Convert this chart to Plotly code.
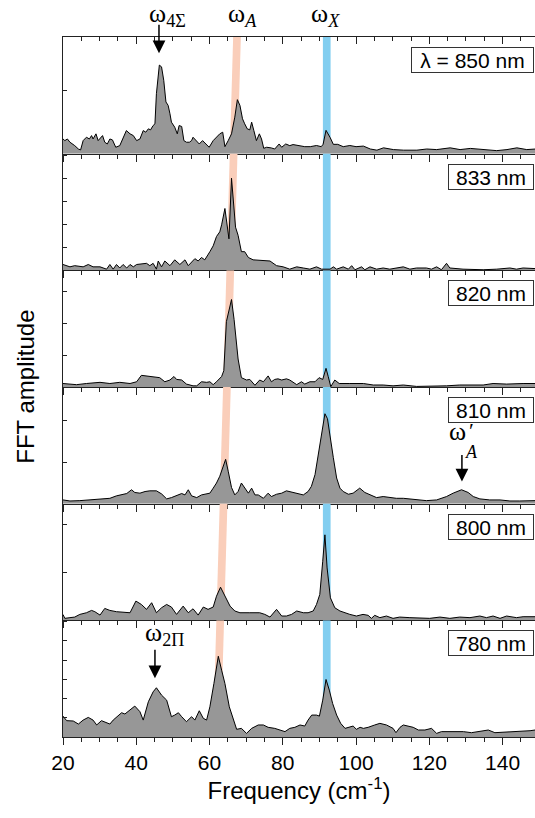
import plotly.graph_objects as go

# ---------------- data (amplitude in % of each panel's height) ----------------
labels = ["λ = 850 nm", "833 nm", "820 nm", "810 nm", "800 nm", "780 nm"]

freq_850 = [20, 20.5, 21.2, 21.9, 23.2, 24.2, 24.8, 25.5, 26.4, 27.2, 27.8, 28.2, 29, 29.6, 30.8, 31.4, 32.1, 32.8, 33.5, 34.4,
            35.5, 36.4, 37.3, 38.3, 39.2, 40.1, 41, 41.9, 42.6, 43.3, 43.9, 44.6, 45.1, 45.5, 46.3, 46.9, 47.5, 48.1, 48.7, 49.2,
            49.6, 50.5, 51.2, 51.7, 52.4, 53, 53.7, 54.5, 55.1, 55.5, 56.3, 57.2, 58.1, 59, 59.9, 61, 61.9, 62.8, 63.6, 64.2,
            65.1, 66, 66.9, 67.6, 68.3, 69, 69.6, 70.3, 71, 71.5, 72.1, 72.8, 73.6, 74.2, 74.8, 75.6, 76.9, 77.8, 79, 79.7,
            80.8, 81.9, 82.8, 84.2, 86, 87.5, 89.2, 90.5, 91, 91.8, 92.4, 92.9, 93.8, 95, 96.5, 98.3, 100, 102, 103.9, 105.7,
            107.5, 110.2, 113, 116.6, 119.3, 122, 125.7, 128.4, 131.2, 134.8, 138.4, 141.2, 143.9, 146.6, 149]
amp_850 = [12.6, 11.2, 12.6, 9.8, 6.9, 4, 3.2, 11.2, 14.1, 12.6, 15.5, 12.6, 17, 11.2, 15.5, 9.8, 8.3, 12.6, 11.8, 5.5,
           6.9, 14.1, 19.8, 17, 15.5, 11.2, 12.6, 19.8, 18.4, 21.3, 20.4, 24.1, 25.6, 51.4, 75.9, 74.4, 62.9, 44.3, 41.4, 34.2,
           27, 22.7, 17, 24.1, 23.3, 11.2, 9.8, 9.8, 11.2, 14.1, 11.2, 8.3, 11.2, 8.3, 5.5, 11.2, 14.1, 17, 18.4, 6,
           11.2, 17, 31.3, 46.3, 41.4, 29.9, 25.6, 21.3, 20.4, 27, 19.8, 11.2, 17, 12.6, 4.6, 5.5, 4.9, 4, 8.3, 5.5,
           8.3, 6.9, 7.8, 6.9, 6, 6, 7, 6, 8, 20, 17, 14, 8, 8, 6, 7, 6, 6.5, 4, 3,
           5, 3.5, 3, 3, 4, 3.5, 5, 3.5, 4.5, 3.5, 2.6, 3.5, 5, 3.5, 4]

freq_833 = [20, 21.9, 23.2, 25.5, 26.9, 28.2, 30.1, 31.9, 32.8, 33.7, 34.6, 35.5, 36.4, 37.4, 38.3, 39.2, 40.1, 42.8, 43.7, 44.6,
            45.5, 46, 46.9, 47.8, 49.2, 50.5, 51.9, 53.3, 54.2, 56, 56.9, 57.8, 58.7, 59.2, 60.1, 61, 61.9, 62.8, 63.3, 64.2,
            64.6, 65.3, 66, 66.5, 67.1, 67.8, 68.7, 69.6, 70.6, 71.9, 75.6, 76.5, 78.3, 80.1, 81.9, 83.8, 85.6, 87.4, 89.2, 90.6,
            92.9, 93.8, 94.7, 96.5, 97.9, 98.8, 99.7, 101.5, 102.4, 103.8, 105.6, 107.4, 109.2, 112.9, 114.7, 116.5, 119.2, 120.6, 122, 123.3,
            124.7, 125.6, 129.2, 134.7, 138.4, 142, 143.8, 145.6, 148.9]
amp_833 = [5, 3, 4, 3, 5, 3, 3, 1, 5, 1, 5, 2, 5, 2, 5, 3, 5, 6, 4, 6,
           1, 8, 3, 8, 4, 9, 5, 9, 4, 10, 8, 11, 9, 12, 16, 21, 29, 33, 39, 53,
           45, 27, 79, 56, 37, 30, 16, 16, 11, 9, 8, 8, 4, 3, 1, 3, 2, 1, 3, 1,
           1, 3, 1, 3, 1, 4, 0.5, 3, 0.5, 3, 1, 2, 1, 3, 1, 2, 2, 1, 3, 0.5,
           6, 2, 1, 0.5, 1, 2, 1, 2, 1.5]

freq_820 = [20, 21.9, 23.7, 26.4, 30.1, 32.8, 35.5, 38.3, 40.1, 41.4, 43.7, 46.4, 47.8, 49.2, 50.3, 51, 52.4, 53.7, 55.5, 56.5,
            57.8, 59.2, 60.1, 61, 61.9, 63.3, 63.9, 64.6, 66, 66.7, 67.8, 68.7, 70.1, 71, 72.4, 73.7, 74.7, 76, 76.9, 77.8,
            78.7, 79.7, 81, 81.9, 83.8, 85.1, 86, 87.4, 88.8, 89.9, 90.9, 91.8, 92.4, 93.1, 94.2, 95.4, 98.3, 102, 104.7, 107.4,
            110.1, 112.9, 116.5, 121, 124.7, 128.3, 132, 134.7, 137.4, 141.1, 145.6, 148.9]
amp_820 = [3, 2.5, 2, 3, 4, 3, 4, 3, 4.5, 10, 9, 8, 4.5, 6, 9, 6.5, 6, 2.5, 1, 1,
           4.5, 4, 4.5, 2, 4.5, 9, 14, 56, 75, 58, 24, 8, 6, 6.5, 1.5, 6, 4.5, 9.5, 4.5, 6.5,
           7, 6, 7, 6, 2, 4.5, 2.5, 4.5, 4.5, 8, 6.5, 16, 9, 0.3, 6, 3, 3, 3, 1.7, 1.7,
           1, 1.7, 0.5, 0.5, 1, 1.7, 2, 1.7, 3, 2.5, 3, 3]

freq_810 = [20, 21.9, 24.6, 27.3, 30.1, 32.8, 34.6, 36, 37.4, 38.7, 39.6, 41, 42.4, 43.7, 45.5, 46.9, 48.3, 49.6, 51, 52.4,
            53.3, 54.2, 55.1, 56.5, 57.8, 59.2, 60.1, 61, 61.9, 62.8, 63.7, 64.4, 65.1, 66, 66.9, 67.8, 68.7, 69.6, 70.6, 71.5,
            72.4, 73.3, 74.7, 76, 76.9, 78.3, 79.7, 81, 81.9, 83.8, 85.6, 86.9, 87.8, 88.8, 89.7, 90.6, 91.5, 92.2, 92.9, 93.8,
            94.7, 95.6, 96.5, 97.9, 99.2, 101, 102.4, 103.8, 105.6, 107.4, 109.2, 111, 112.9, 114.7, 116.5, 119.2, 122, 124.7, 126.5, 128.8,
            130.6, 132, 133.8, 136.5, 139.3, 142, 144.7, 147.4, 148.9]
amp_810 = [3.2, 2.3, 2.6, 3.2, 4.1, 4.6, 6.7, 7.5, 8.7, 11.9, 9.6, 9, 10.4, 11, 11, 8.4, 4.1, 5.2, 6.7, 8.7,
           7.5, 11.9, 6.7, 5.2, 7.5, 8.1, 9, 13.3, 17.7, 23.5, 32.2, 38, 27.8, 13.9, 7.5, 10.4, 17.7, 13.9, 9, 13.3,
           7.5, 7.5, 4.6, 9, 6.1, 8.1, 9, 11, 10.4, 9, 7.5, 10.4, 14.8, 24.9, 42.3, 59.7, 77.1, 72.8, 56.8, 39.4,
           22, 13.3, 10.4, 8.1, 9, 13.3, 9.6, 7.5, 5.2, 6.1, 5.2, 4.6, 4.6, 4.1, 3.2, 2.6, 3.2, 6.1, 9, 11.9,
           9.6, 6.1, 4.1, 3.2, 3.2, 2.3, 2.3, 2.3, 2.6]

freq_800 = [20, 20.5, 21.9, 23.2, 24.6, 26.4, 27.8, 28.7, 30.1, 31.4, 32.8, 34.6, 38.3, 39.9, 41.4, 42.8, 44.2, 45.5, 46.9, 48.3,
            49.6, 51, 52.8, 54.2, 55.5, 56.9, 58.3, 59.6, 61, 61.9, 63, 64.2, 65.6, 66.9, 68.3, 71, 73.7, 75.1, 76.5, 78.3,
            79.7, 81, 82.4, 83.8, 85.6, 86.9, 88.3, 89.2, 90.1, 90.9, 91.5, 92.1, 93, 94.2, 95.6, 98.3, 100.1, 101.9, 103.3, 104.2,
            105.1, 106.5, 108.3, 110.1, 111.9, 114.7, 117.4, 120.1, 122.9, 125.6, 128.3, 131.1, 133.8, 135.6, 137.4, 139.3, 141.1, 143.8, 145.6, 148.9]
amp_800 = [5, 1.7, 2.3, 2.8, 5.1, 6.5, 8.5, 7.4, 4.5, 10.2, 8.5, 7.4, 6.5, 16.5, 13.6, 9.4, 15.1, 6.5, 10.8, 13.6,
           11.4, 5.1, 12.2, 6.5, 9.9, 4.5, 11.4, 9.4, 11.4, 20.7, 28.4, 20.7, 12.2, 8, 6.5, 6.5, 6.5, 5.1, 2.8, 9.4,
           3.7, 3.7, 5.1, 8, 6.5, 6.5, 8, 13.6, 22.2, 50.6, 73.3, 44.9, 19.3, 10.8, 8, 5.1, 3.7, 5.1, 4.3, 1.7,
           4.3, 2.3, 3.7, 1.7, 2.8, 2.3, 2.3, 1.7, 2.8, 1.7, 2.8, 2.3, 3.7, 2.3, 3.7, 1.7, 3.7, 2.3, 3.1, 3.1]

freq_780 = [20, 21, 22.8, 24.2, 25.5, 26.9, 28.2, 29.2, 30.5, 31.4, 32.8, 33.7, 35.1, 36, 36.9, 38.3, 39.6, 41, 41.9, 43.3,
            44.6, 45.5, 46.9, 48.3, 49.6, 50.5, 51.5, 52.4, 53.7, 55.1, 56, 57.2, 58.3, 59.2, 60.1, 61.2, 62.4, 63.3, 64.2, 65.4,
            66.5, 67.4, 68.7, 70.1, 71.5, 73.3, 74.7, 76, 77.8, 79.2, 80.6, 81.9, 83.3, 84.7, 86, 86.9, 87.9, 89.2, 90, 90.9,
            91.8, 92.7, 93.6, 94.7, 95.8, 97, 97.9, 99.2, 100.1, 101.1, 102, 103.3, 105.1, 106.5, 108.3, 110.1, 110.9, 112, 112.9, 114.2,
            115.6, 117, 118.8, 120.6, 122, 123.3, 125.6, 127.4, 129.3, 131.5, 133.8, 136.1, 137.9, 140.2, 142, 143.8, 145.6, 147.5, 148.9]
amp_780 = [17.9, 14, 13.7, 11.1, 14.5, 16.8, 14.5, 10.3, 14, 13.1, 11.1, 14.5, 17.9, 20.8, 19.7, 23.1, 26.5, 21.7, 14.5, 30.2,
           38.7, 42.2, 35.9, 31.6, 17.4, 18.8, 20.8, 17.4, 13.1, 17.4, 14.5, 22.5, 16, 14.5, 25.9, 45.9, 69.2, 57.3, 45.9, 25.9,
           14.5, 6.6, 7.4, 3.1, 7.4, 10.3, 10.3, 8.3, 7.4, 6, 4.6, 7.4, 8.3, 10.3, 9.4, 14.5, 18.8, 18.8, 17.9, 31.6,
           49.3, 40.2, 28.8, 18.8, 11.7, 7.4, 8.3, 9.4, 6.6, 8.3, 7.4, 8.3, 10.3, 11.7, 10.3, 7.4, 3.7, 8.3, 10.3, 9.4,
           8.3, 6, 6, 7.4, 3.1, 4.6, 4.6, 4, 4.6, 3.7, 4.6, 6, 3.7, 4, 4.6, 4.3, 4.8, 5.4, 6]

freqs = [freq_850, freq_833, freq_820, freq_810, freq_800, freq_780]
amps = [amp_850, amp_833, amp_820, amp_810, amp_800, amp_780]
ytick_step = [54.5, 19.7, 27.2, 35.6, 41, 16.5]

# band positions (cm^-1)
omegaA_top, omegaA_bottom = 67.5, 62.0
omegaX = 92.0
band_w = 2.1

x_range = [20, 148.85]
AX = "#222222"
SANS = "Arial, Liberation Sans, sans-serif"
SERIF = "Times New Roman, Liberation Serif, serif"

fig = go.Figure()
n = len(labels)
layout = {}
shapes = []
annotations = []
for k in range(n):
    xs = "" if k == 0 else str(k + 1)
    xa, ya = "x" + xs, "y" + xs
    fig.add_trace(go.Scatter(x=freqs[k], y=amps[k], xaxis=xa, yaxis=ya, mode="lines",
                             line=dict(color="black", width=1), fill="tozeroy",
                             fillcolor="#979797", showlegend=False, hoverinfo="skip"))
    top, bot = 1 - k / n, 1 - (k + 1) / n
    last = (k == n - 1)
    layout["xaxis" + xs] = dict(
        domain=[0, 1], anchor=ya, range=x_range, tickmode="linear", tick0=20, dtick=20,
        ticks="outside", ticklen=7, tickwidth=1, tickcolor=AX, showline=True, linecolor=AX,
        linewidth=1.2, showgrid=False, zeroline=False, showticklabels=last,
        tickfont=dict(family=SANS, size=21, color="black"),
        minor=dict(ticks="outside", ticklen=4, tickwidth=1, tickcolor=AX, tick0=20, dtick=5, showgrid=False),
    )
    if last:
        layout["xaxis" + xs]["title"] = dict(text="Frequency (cm<sup>-1</sup>)",
                                             font=dict(family=SANS, size=24, color="black"), standoff=6)
    layout["yaxis" + xs] = dict(
        domain=[bot, top], anchor=xa, range=[0, 100], tickmode="linear", tick0=0, dtick=ytick_step[k],
        ticks="inside", ticklen=4, tickwidth=1, tickcolor=AX, showticklabels=False,
        showline=True, linecolor=AX, linewidth=1.2, showgrid=False, zeroline=False,
    )
    # omega_A band (slanted) and omega_X band
    ct = omegaA_top + (omegaA_bottom - omegaA_top) * k / n
    cb = omegaA_top + (omegaA_bottom - omegaA_top) * (k + 1) / n
    h = band_w / 2
    shapes.append(dict(type="path", xref=xa, yref=ya, layer="below", line=dict(width=0),
                       fillcolor="rgb(250,206,186)",
                       path=f"M {ct - h},100 L {ct + h},100 L {cb + h},0 L {cb - h},0 Z"))
    shapes.append(dict(type="rect", xref=xa, yref=ya, layer="below", line=dict(width=0),
                       fillcolor="rgb(130,206,240)", x0=omegaX - h, x1=omegaX + h, y0=0, y1=100))
    # wavelength label box
    annotations.append(dict(text=labels[k], xref="paper", yref=ya + " domain", x=1, y=1,
                            xanchor="right", yanchor="top", xshift=-1, yshift=-10, showarrow=False,
                            font=dict(family=SANS, size=21, color="black"),
                            bgcolor="white", bordercolor="#333333", borderwidth=1, borderpad=0,
                            width=(121 if k == 0 else 84), height=24))

# top axis of the first panel (ticks pointing inward)
layout["xaxis7"] = dict(overlaying="x", side="top", anchor="y", range=x_range, tickmode="linear",
                        tick0=20, dtick=20, ticks="inside", ticklen=7, tickwidth=1, tickcolor=AX,
                        showline=True, linecolor=AX, linewidth=1.2, showgrid=False, zeroline=False,
                        showticklabels=False,
                        minor=dict(ticks="inside", ticklen=4, tickwidth=1, tickcolor=AX, tick0=20, dtick=5))
fig.add_trace(go.Scatter(x=[None], y=[None], xaxis="x7", yaxis="y", showlegend=False, hoverinfo="skip"))

ARROW = dict(showarrow=True, arrowhead=2, arrowsize=1.7, arrowwidth=1.5, arrowcolor="black", text="")

# mode labels
annotations += [
    dict(text="ω<sub>4Σ</sub>", xref="x", yref="paper", x=48.5, y=1.006, yanchor="bottom",
         showarrow=False, font=dict(family=SERIF, size=26, color="black")),
    dict(text="ω<sub><i>A</i></sub>", xref="x", yref="paper", x=69.0, y=1.006, yanchor="bottom",
         showarrow=False, font=dict(family=SERIF, size=26, color="black")),
    dict(text="ω<sub><i>X</i></sub>", xref="x", yref="paper", x=91.6, y=1.006, yanchor="bottom",
         showarrow=False, font=dict(family=SERIF, size=26, color="black")),
    dict(xref="x", yref="y", x=46.2, y=86, ax=0, ay=-30, **ARROW),
    dict(text="ω<sub>2Π</sub>", xref="x6", yref="y6", x=47.7, y=72.5, yanchor="bottom",
         showarrow=False, font=dict(family=SERIF, size=26, color="black")),
    dict(xref="x6", yref="y6", x=45.1, y=50.4, ax=0, ay=-30, **ARROW),
    dict(text="ω", xref="x4", yref="y4", x=127.8, y=48, yanchor="bottom",
         showarrow=False, font=dict(family=SERIF, size=26, color="black")),
    dict(text="′", xref="x4", yref="y4", x=131.4, y=62.6, showarrow=False,
         font=dict(family=SERIF, size=22, color="black")),
    dict(text="<i>A</i>", xref="x4", yref="y4", x=131.6, y=44.3, showarrow=False,
         font=dict(family=SERIF, size=18, color="black")),
    dict(xref="x4", yref="y4", x=128.9, y=19, ax=0, ay=-28, **ARROW),
    dict(text="FFT amplitude", xref="paper", yref="paper", x=-0.081, y=0.5, textangle=-90,
         xanchor="center", yanchor="middle",
         showarrow=False, font=dict(family=SANS, size=24, color="black")),
]

fig.update_layout(
    width=535, height=818, margin=dict(l=63, r=0, t=37, b=81),
    paper_bgcolor="white", plot_bgcolor="rgba(0,0,0,0)",
    shapes=shapes, annotations=annotations, showlegend=False,
    **layout,
)
fig.write_html("out.html", config={"displayModeBar": False},
               post_script="document.body.style.margin='0px';")
